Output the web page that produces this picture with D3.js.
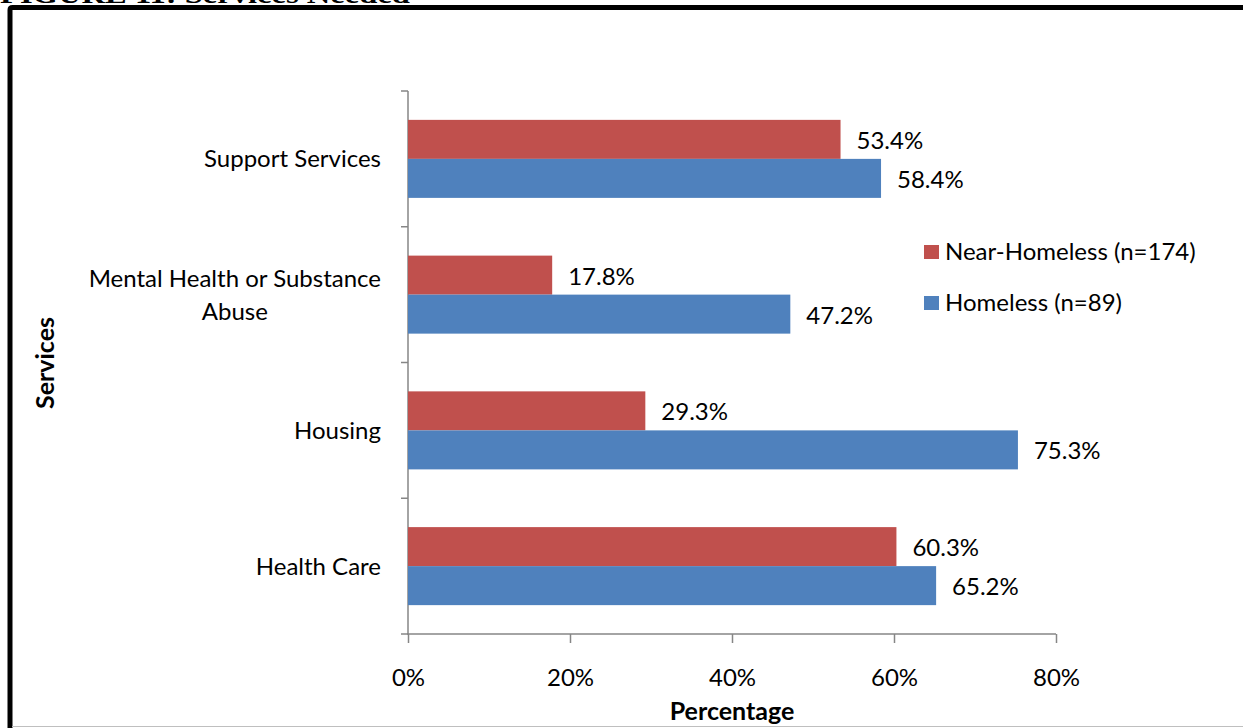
<!DOCTYPE html>
<html>
<head>
<meta charset="utf-8">
<script src="https://cdn.jsdelivr.net/npm/d3@7"></script>
<style>
  html, body { margin: 0; padding: 0; background: #fff; }
  svg { display: block; }
  text { font-family: Lato, "Open Sans", "Liberation Sans", sans-serif; fill: #000; }
</style>
</head>
<body>
<svg id="chart" width="1243" height="728"></svg>
<script>
// Services needed, share of respondents by housing status
const categories = ["Support Services", "Mental Health or Substance Abuse", "Housing", "Health Care"];
const categoryLines = [["Support Services"], ["Mental Health or Substance", "Abuse"], ["Housing"], ["Health Care"]];
const seriesNames = ["Near-Homeless (n=174)", "Homeless (n=89)"];
const nearHomeless = [53.4, 17.8, 29.3, 60.3];
const homeless = [58.4, 47.2, 75.3, 65.2];
const xTicks = [0, 20, 40, 60, 80];
const colors = ["#C0504D", "#4F81BD"];

(function draw() {
  const svg = d3.select("#chart");
  const W = 1243, H = 728;
  const fs = "24px";

  // Frame and caption
  svg.append("text")
    .attr("x", 0).attr("y", 3)
    .attr("textLength", 410).attr("lengthAdjust", "spacingAndGlyphs")
    .style("font-family", "'Liberation Serif', 'Times New Roman', serif")
    .style("font-weight", "bold").style("font-size", "26px")
    .text("FIGURE 11: Services Needed");

  svg.append("rect").attr("x", 0).attr("y", 4).attr("width", W).attr("height", H - 4).attr("fill", "#fff");
  svg.append("path")
    .attr("d", `M10,${H} L10,10 Q10,7.5 12.5,7.5 L${W},7.5`)
    .attr("fill", "none").attr("stroke", "#000").attr("stroke-width", 5);
  svg.append("line")
    .attr("x1", 12).attr("x2", W).attr("y1", 726.5).attr("y2", 726.5)
    .attr("stroke", "#bfbfbf").attr("stroke-width", 1);

  // Plot area
  const pLeft = 408, pRight = 1056, pTop = 91, pBottom = 634;

  const x = d3.scaleLinear().domain([0, 80]).range([pLeft, pRight]);
  const y = d3.scaleBand().domain(categories).range([pTop, pBottom]).paddingInner(0).paddingOuter(0);
  const inner = d3.scaleBand().domain([0, 1]).range([0, y.bandwidth()]).paddingOuter(0.74).paddingInner(0);

  const axisColor = "#868686";

  // Category axis with tick marks between bands
  const yAxisG = svg.append("g");
  yAxisG.append("line")
    .attr("x1", pLeft).attr("x2", pLeft).attr("y1", pTop).attr("y2", pBottom)
    .attr("stroke", axisColor).attr("stroke-width", 1.5);
  const bandEdges = categories.map(c => y(c)).concat([pBottom]);
  yAxisG.selectAll("line.tick").data(bandEdges).join("line")
    .attr("class", "tick")
    .attr("x1", pLeft - 7).attr("x2", pLeft).attr("y1", d => d).attr("y2", d => d)
    .attr("stroke", axisColor).attr("stroke-width", 1.5);

  // Value axis
  const xAxis = d3.axisBottom(x).tickValues(xTicks).tickSize(9).tickFormat(d => d + "%");
  const xAxisG = svg.append("g").attr("transform", `translate(0,${pBottom})`).call(xAxis);
  xAxisG.select(".domain").attr("stroke", axisColor).attr("stroke-width", 1.5)
    .attr("d", `M${pLeft - 1},0H${pRight}`);
  xAxisG.selectAll(".tick line").attr("stroke", axisColor).attr("stroke-width", 1.5);
  xAxisG.selectAll(".tick text")
    .attr("y", 44).attr("dy", "0.35em")
    .style("font-size", fs).attr("fill", "#000")
    .style("font-family", "Lato, 'Open Sans', sans-serif");

  // Bars
  const series = [nearHomeless, homeless];
  series.forEach((vals, si) => {
    const g = svg.append("g");
    g.selectAll("rect").data(categories).join("rect")
      .attr("x", x(0))
      .attr("y", (c) => y(c) + inner(si))
      .attr("width", (c, i) => x(vals[i]) - x(0))
      .attr("height", inner.bandwidth())
      .attr("fill", colors[si]);
    g.selectAll("text").data(categories).join("text")
      .attr("x", (c, i) => x(vals[i]) + 16)
      .attr("y", (c) => y(c) + inner(si) + inner.bandwidth() / 2 + 1)
      .attr("dy", "0.35em")
      .style("font-size", fs)
      .text((c, i) => vals[i].toFixed(1) + "%");
  });

  // Category labels
  categories.forEach((c, i) => {
    const lines = categoryLines[i];
    const lh = 33;
    const cy = y(c) + y.bandwidth() / 2;
    const t = svg.append("text").style("font-size", fs);
    if (lines.length === 1) {
      t.attr("x", 381).attr("y", cy).attr("dy", "0.35em").attr("text-anchor", "end").text(lines[0]);
    } else {
      // centred block, right edge aligned with the single-line labels
      const tmp = svg.append("text").style("font-size", fs).text(lines[0]);
      const w = tmp.node().getComputedTextLength();
      tmp.remove();
      const cx = 381 - w / 2;
      lines.forEach((ln, k) => {
        t.append("tspan").attr("x", cx).attr("text-anchor", "middle")
          .attr("y", cy + (k - (lines.length - 1) / 2) * lh).attr("dy", "0.35em").text(ln);
      });
    }
  });

  // Axis titles
  svg.append("text")
    .attr("x", (pLeft + pRight) / 2).attr("y", 711).attr("dy", "0.35em")
    .attr("text-anchor", "middle")
    .style("font-size", "25px").style("font-weight", "bold")
    .text("Percentage");
  svg.append("text")
    .attr("transform", `translate(45,363) rotate(-90)`)
    .attr("dy", "0.35em").attr("text-anchor", "middle")
    .style("font-size", "25px").style("font-weight", "bold")
    .text("Services");

  // Legend
  const legend = svg.append("g");
  const legendY = [252, 303];
  seriesNames.forEach((name, i) => {
    legend.append("rect")
      .attr("x", 924).attr("y", legendY[i] - 7).attr("width", 15).attr("height", 14)
      .attr("fill", colors[i]);
    legend.append("text")
      .attr("x", 945).attr("y", legendY[i]).attr("dy", "0.35em")
      .style("font-size", fs)
      .text(name);
  });
})();
</script>
</body>
</html>
